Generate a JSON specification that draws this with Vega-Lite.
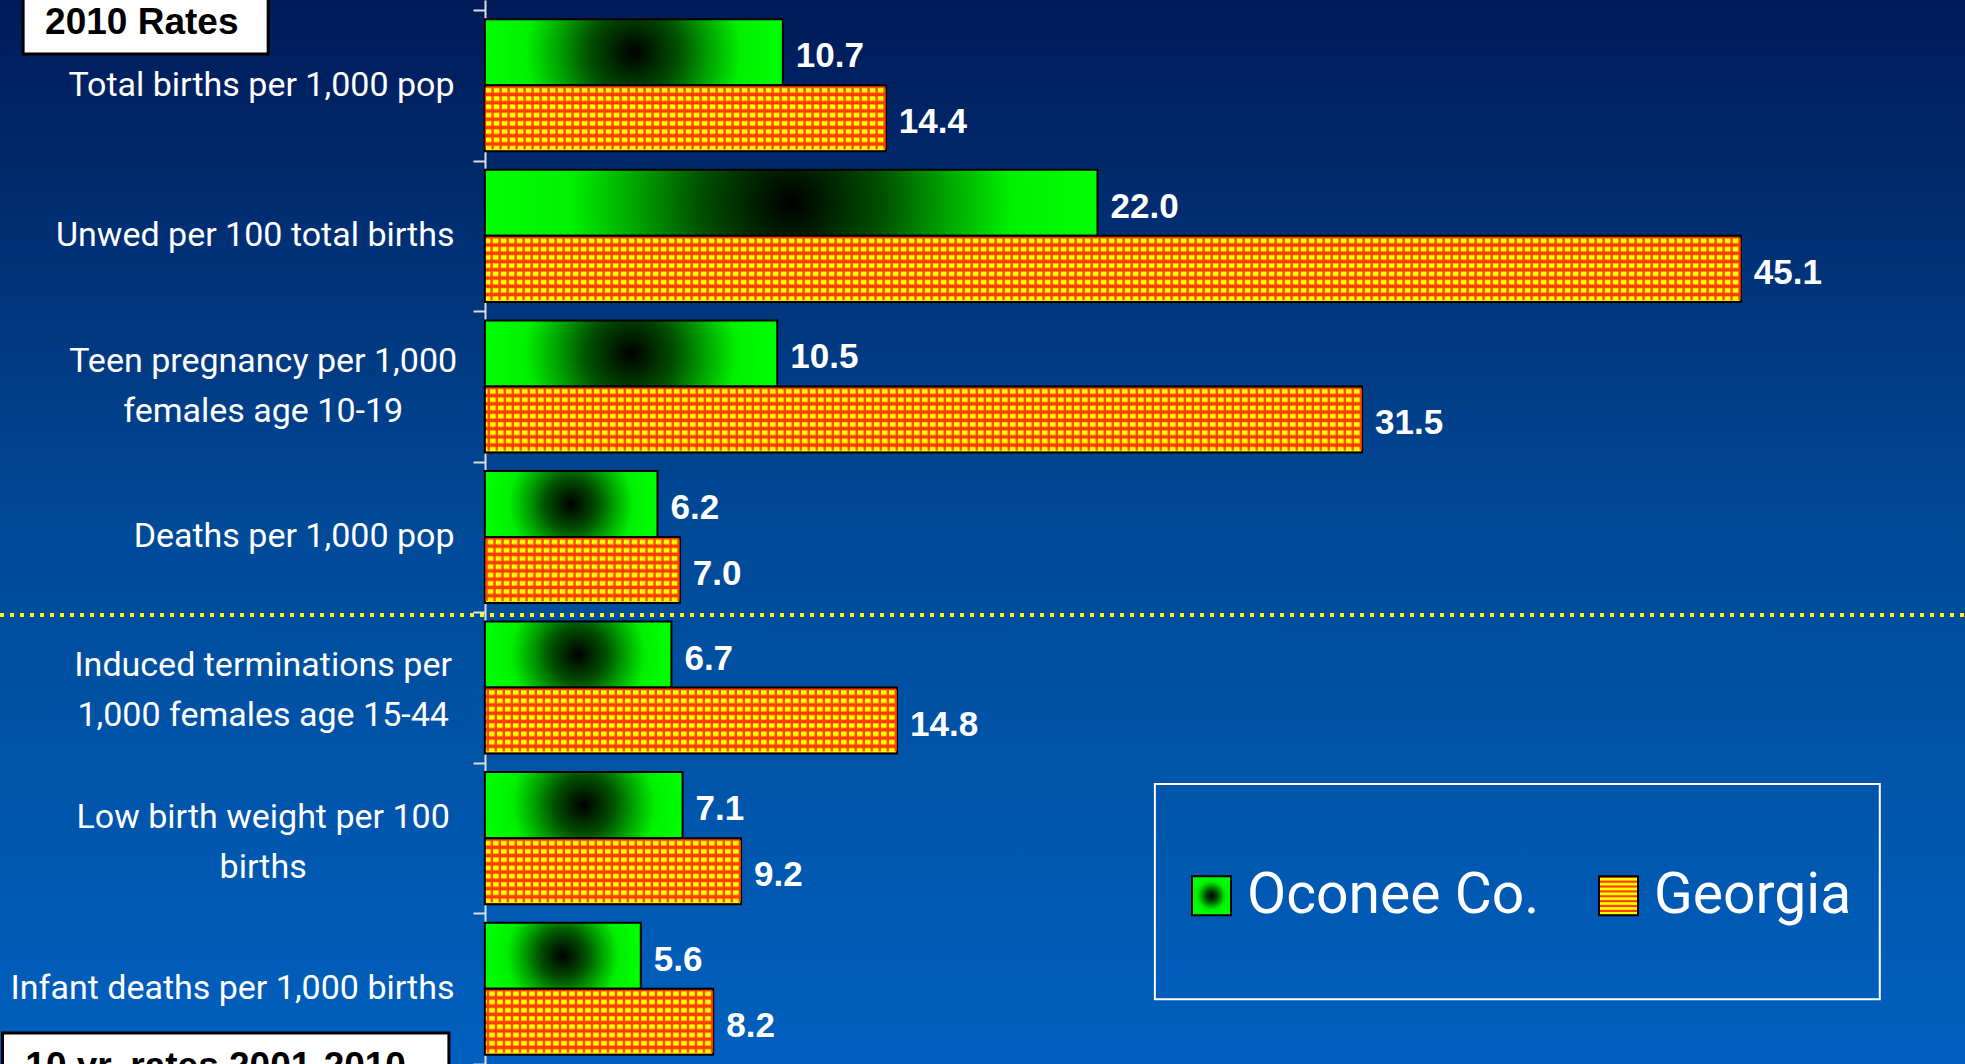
{
  "$schema": "https://vega.github.io/schema/vega-lite/v6.json",
  "width": 1965,
  "height": 1064,
  "autosize": {"type": "none"},
  "padding": 0,
  "background": "#001a57",
  "config": {"view": {"stroke": null, "fill": {"gradient": "linear", "x1": 0, "y1": 0, "x2": 0, "y2": 1, "stops": [{"offset": 0, "color": "#001a57"}, {"offset": 0.5, "color": "#004a98"}, {"offset": 1, "color": "#0060be"}]}}},
  "datasets": {
    "rates": [
      {"cat": "Total births per 1,000 pop", "series": "Oconee Co.", "value": 10.7},
      {"cat": "Total births per 1,000 pop", "series": "Georgia", "value": 14.4},
      {"cat": "Unwed per 100 total births", "series": "Oconee Co.", "value": 22.0},
      {"cat": "Unwed per 100 total births", "series": "Georgia", "value": 45.1},
      {"cat": "Teen pregnancy per 1,000|females age 10-19", "series": "Oconee Co.", "value": 10.5},
      {"cat": "Teen pregnancy per 1,000|females age 10-19", "series": "Georgia", "value": 31.5},
      {"cat": "Deaths per 1,000 pop", "series": "Oconee Co.", "value": 6.2},
      {"cat": "Deaths per 1,000 pop", "series": "Georgia", "value": 7.0},
      {"cat": "Induced terminations per|1,000 females age 15-44", "series": "Oconee Co.", "value": 6.7},
      {"cat": "Induced terminations per|1,000 females age 15-44", "series": "Georgia", "value": 14.8},
      {"cat": "Low birth weight per 100|births", "series": "Oconee Co.", "value": 7.1},
      {"cat": "Low birth weight per 100|births", "series": "Georgia", "value": 9.2},
      {"cat": "Infant deaths per 1,000 births", "series": "Oconee Co.", "value": 5.6},
      {"cat": "Infant deaths per 1,000 births", "series": "Georgia", "value": 8.2}
    ]
  },
  "resolve": {"scale": {"y": "independent"}},
  "layer": [
    {
      "data": {"values": [{}]},
      "mark": {"type": "rule", "color": "#ffff00", "strokeWidth": 4, "strokeDash": [4, 6]},
      "encoding": {
        "x": {"datum": -17.41, "type": "quantitative", "scale": {"domain": [-17.41, 53.15], "nice": false, "zero": false}, "axis": null},
        "x2": {"datum": 53.15},
        "y": {"datum": 4.018, "type": "quantitative", "scale": {"domain": [-0.0664, 7], "reverse": true, "nice": false, "zero": false}, "axis": null}
      }
    },
    {
      "data": {"name": "rates"},
      "mark": {"type": "bar", "stroke": "#000000", "strokeWidth": 2},
      "encoding": {
        "x": {"field": "value", "type": "quantitative", "scale": {"domain": [-17.41, 53.15], "nice": false, "zero": false}, "axis": null},
        "x2": {"datum": 0},
        "y": {"field": "cat", "type": "nominal", "sort": null,
              "scale": {"paddingInner": 0, "paddingOuter": 0.0332, "align": 1},
              "axis": {"offset": -485, "title": null, "domainColor": "#dddddd", "domainWidth": 2, "tickColor": "#dddddd", "tickWidth": 2, "tickSize": 12, "tickBand": "extent", "labelFont": "Roboto", "labelFontSize": 34, "labelColor": "#ffffff", "labelPadding": 19, "labelLimit": 0, "labelExpr": "indexof(datum.label, '|') >= 0 ? '' : datum.label", "grid": false}},
        "yOffset": {"field": "series", "type": "nominal", "sort": ["Oconee Co.", "Georgia"], "scale": {"domain": ["Oconee Co.", "Georgia"], "paddingInner": 0, "paddingOuter": 0.14}},
        "fill": {"field": "series", "type": "nominal",
          "scale": {"domain": ["Oconee Co.", "Georgia"], "range": [
            {"expr": "{gradient: 'radial', x1: 0.5, y1: 0.5, r1: 0, x2: 0.5, y2: 0.5, r2: 0.5, stops: [{offset: 0, color: '#000000'}, {offset: 0.3, color: '#005000'}, {offset: 0.5, color: '#00a000'}, {offset: 0.72, color: '#00f000'}, {offset: 1, color: '#00ff00'}]}"},
            {"expr": "{gradient: 'linear', x1: 0, y1: 0, x2: 0, y2: 1, stops: [{offset: 0, color: '#ff3c00'}, {offset: 0.03, color: '#ff3c00'}, {offset: 0.045, color: '#ffcc00'}, {offset: 0.055, color: '#ffff00'}, {offset: 0.095, color: '#ffff00'}, {offset: 0.11, color: '#ffaa00'}, {offset: 0.125, color: '#ff3c00'}, {offset: 0.155, color: '#ff3c00'}, {offset: 0.17, color: '#ffcc00'}, {offset: 0.18, color: '#ffff00'}, {offset: 0.22, color: '#ffff00'}, {offset: 0.235, color: '#ffaa00'}, {offset: 0.25, color: '#ff3c00'}, {offset: 0.28, color: '#ff3c00'}, {offset: 0.295, color: '#ffcc00'}, {offset: 0.305, color: '#ffff00'}, {offset: 0.345, color: '#ffff00'}, {offset: 0.36, color: '#ffaa00'}, {offset: 0.375, color: '#ff3c00'}, {offset: 0.405, color: '#ff3c00'}, {offset: 0.42, color: '#ffcc00'}, {offset: 0.43, color: '#ffff00'}, {offset: 0.47, color: '#ffff00'}, {offset: 0.485, color: '#ffaa00'}, {offset: 0.5, color: '#ff3c00'}, {offset: 0.53, color: '#ff3c00'}, {offset: 0.545, color: '#ffcc00'}, {offset: 0.555, color: '#ffff00'}, {offset: 0.595, color: '#ffff00'}, {offset: 0.61, color: '#ffaa00'}, {offset: 0.625, color: '#ff3c00'}, {offset: 0.655, color: '#ff3c00'}, {offset: 0.67, color: '#ffcc00'}, {offset: 0.68, color: '#ffff00'}, {offset: 0.72, color: '#ffff00'}, {offset: 0.735, color: '#ffaa00'}, {offset: 0.75, color: '#ff3c00'}, {offset: 0.78, color: '#ff3c00'}, {offset: 0.795, color: '#ffcc00'}, {offset: 0.805, color: '#ffff00'}, {offset: 0.845, color: '#ffff00'}, {offset: 0.86, color: '#ffaa00'}, {offset: 0.875, color: '#ff3c00'}, {offset: 0.905, color: '#ff3c00'}, {offset: 0.92, color: '#ffcc00'}, {offset: 0.93, color: '#ffff00'}, {offset: 0.97, color: '#ffff00'}, {offset: 0.985, color: '#ffaa00'}, {offset: 1, color: '#ff3c00'}]}"}
          ]},
          "legend": {"orient": "none", "legendX": 1183, "legendY": 867, "direction": "horizontal", "title": null, "padding": 0, "labelFont": "Roboto", "labelFontSize": 57, "labelColor": "#ffffff", "labelOffset": 7, "columnPadding": 50, "symbolType": "square", "symbolSize": 1521, "symbolStrokeColor": "#000000", "symbolStrokeWidth": 2, "symbolOpacity": 1, "labelLimit": 0}
        }
      }
    },
    {
      "data": {"name": "rates"},
      "transform": [{"filter": "datum.series === 'Georgia'"}],
      "mark": {"type": "rule", "color": "#ff3c00", "strokeWidth": 62, "strokeDash": [2.5, 5.5], "strokeCap": "butt", "opacity": 0.9},
      "encoding": {
        "x": {"field": "value", "type": "quantitative", "scale": {"domain": [-17.41, 53.15], "nice": false, "zero": false}, "axis": null},
        "x2": {"datum": 0},
        "y": {"field": "cat", "type": "nominal", "sort": null, "scale": {"paddingInner": 0, "paddingOuter": 0.0332, "align": 1}, "axis": null},
        "yOffset": {"field": "series", "type": "nominal", "sort": ["Oconee Co.", "Georgia"], "scale": {"domain": ["Oconee Co.", "Georgia"], "paddingInner": 0, "paddingOuter": 0.14}}
      }
    },
    {
      "data": {"name": "rates"},
      "mark": {"type": "text", "align": "left", "baseline": "middle", "dx": 13, "dy": 4, "font": "Liberation Sans", "fontWeight": "bold", "fontSize": 35, "color": "#ffffff"},
      "encoding": {
        "x": {"field": "value", "type": "quantitative", "scale": {"domain": [-17.41, 53.15], "nice": false, "zero": false}, "axis": null},
        "y": {"field": "cat", "type": "nominal", "sort": null, "scale": {"paddingInner": 0, "paddingOuter": 0.0332, "align": 1}, "axis": null},
        "yOffset": {"field": "series", "type": "nominal", "sort": ["Oconee Co.", "Georgia"], "scale": {"domain": ["Oconee Co.", "Georgia"], "paddingInner": 0, "paddingOuter": 0.14}},
        "text": {"field": "value", "type": "quantitative", "format": ".1f"}
      }
    },
    {
      "data": {"name": "rates"},
      "mark": {"type": "text", "align": "center", "baseline": "middle", "dy": -94, "lineBreak": "|", "lineHeight": 50, "font": "Roboto", "fontSize": 34, "color": "#ffffff"},
      "encoding": {
        "x": {"datum": -7.96, "type": "quantitative", "scale": {"domain": [-17.41, 53.15], "nice": false, "zero": false}, "axis": null},
        "y": {"field": "cat", "type": "nominal", "sort": null, "scale": {"paddingInner": 0, "paddingOuter": 0.0332, "align": 1}, "axis": null},
        "text": {"condition": {"test": "indexof(datum.cat, '|') >= 0 && datum.series === 'Oconee Co.'", "field": "cat"}, "value": ""}
      }
    },
    {
      "data": {"values": [{}]},
      "mark": {"type": "rect", "fill": "#ffffff", "stroke": "#000000", "strokeWidth": 3},
      "encoding": {
        "x": {"datum": -16.58, "type": "quantitative", "scale": {"domain": [-17.41, 53.15], "nice": false, "zero": false}, "axis": null},
        "x2": {"datum": -7.78},
        "y": {"datum": -0.3, "type": "quantitative", "scale": {"domain": [-0.0664, 7], "reverse": true, "nice": false, "zero": false}, "axis": null},
        "y2": {"datum": 0.292}
      }
    },
    {
      "data": {"values": [{"label": "2010 Rates"}]},
      "mark": {"type": "text", "align": "left", "baseline": "alphabetic", "font": "Liberation Sans", "fontWeight": "bold", "fontSize": 37, "color": "#000000"},
      "encoding": {
        "x": {"datum": -15.79, "type": "quantitative", "scale": {"domain": [-17.41, 53.15], "nice": false, "zero": false}, "axis": null},
        "y": {"datum": 0.159, "type": "quantitative", "scale": {"domain": [-0.0664, 7], "reverse": true, "nice": false, "zero": false}, "axis": null},
        "text": {"field": "label", "type": "nominal"}
      }
    },
    {
      "data": {"values": [{}]},
      "mark": {"type": "rect", "fill": "#ffffff", "stroke": "#000000", "strokeWidth": 3},
      "encoding": {
        "x": {"datum": -17.32, "type": "quantitative", "scale": {"domain": [-17.41, 53.15], "nice": false, "zero": false}, "axis": null},
        "x2": {"datum": -1.29},
        "y": {"datum": 6.794, "type": "quantitative", "scale": {"domain": [-0.0664, 7], "reverse": true, "nice": false, "zero": false}, "axis": null},
        "y2": {"datum": 7.3}
      }
    },
    {
      "data": {"values": [{"label": "10 yr. rates 2001-2010"}]},
      "mark": {"type": "text", "align": "left", "baseline": "alphabetic", "font": "Liberation Sans", "fontWeight": "bold", "fontSize": 37, "color": "#000000"},
      "encoding": {
        "x": {"datum": -16.5, "type": "quantitative", "scale": {"domain": [-17.41, 53.15], "nice": false, "zero": false}, "axis": null},
        "y": {"datum": 7.095, "type": "quantitative", "scale": {"domain": [-0.0664, 7], "reverse": true, "nice": false, "zero": false}, "axis": null},
        "text": {"field": "label", "type": "nominal"}
      }
    },
    {
      "data": {"values": [{}]},
      "mark": {"type": "rect", "fill": "#000000", "fillOpacity": 0, "stroke": "#ffffff", "strokeWidth": 2},
      "encoding": {
        "x": {"datum": 24.06, "type": "quantitative", "scale": {"domain": [-17.41, 53.15], "nice": false, "zero": false}, "axis": null},
        "x2": {"datum": 50.09},
        "y": {"datum": 5.14, "type": "quantitative", "scale": {"domain": [-0.0664, 7], "reverse": true, "nice": false, "zero": false}, "axis": null},
        "y2": {"datum": 6.57}
      }
    }
  ]
}
